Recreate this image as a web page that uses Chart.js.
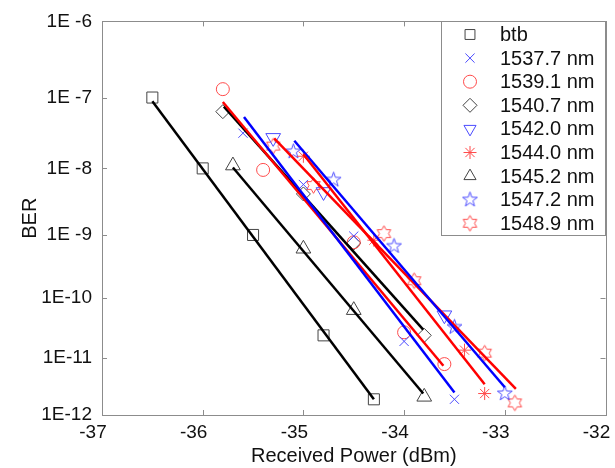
<!DOCTYPE html>
<html>
<head>
<meta charset="utf-8">
<script src="https://cdn.jsdelivr.net/npm/chart.js"></script>
<style>
  html, body { margin: 0; padding: 0; background: #fff; }
  canvas { display: block; }
</style>
</head>
<body>
<canvas id="ber-chart" width="615" height="468"></canvas>
<script>
const SERIES_LABELS = ['btb', '1537.7 nm', '1539.1 nm', '1540.7 nm', '1542.0 nm',
  '1544.0 nm', '1545.2 nm', '1547.2 nm', '1548.9 nm'];

// received power (dBm) per series
const POWER_DBM = [
  [-36.5, -36.0, -35.5, -34.8, -34.3],
  [-35.6, -35.0, -34.5, -34.0, -33.5],
  [-35.8, -35.4, -34.5, -34.0, -33.6],
  [-35.8, -35.0, -34.5, -33.8],
  [-35.3, -34.8, -33.6],
  [-35.0, -34.3, -33.4, -33.2],
  [-35.7, -35.0, -34.5, -33.8],
  [-35.1, -34.7, -34.1, -33.5, -33.0],
  [-35.3, -34.9, -34.2, -33.9, -33.2, -32.9]
];

// measured BER per series
const BER = [
  [1e-7, 1e-8, 1e-9, 2.4e-11, 1.9e-12],
  [3.2e-8, 5.8e-9, 9.6e-10, 1.9e-11, 1.9e-12],
  [1.3e-7, 9.5e-9, 7.7e-10, 2.7e-11, 7.8e-12],
  [6.4e-8, 4.2e-9, 7.5e-10, 2.4e-11],
  [2.75e-8, 4.5e-9, 5.2e-11],
  [1.5e-8, 8.3e-10, 1.35e-11, 2.4e-12],
  [1.1e-8, 6.1e-10, 6.3e-11, 2.1e-12],
  [1.75e-8, 6.8e-9, 6.7e-10, 3.3e-11, 2.4e-12],
  [2.1e-8, 5.6e-9, 1.05e-9, 1.9e-10, 1.2e-11, 1.64e-12]
];

// fitted lines: start / end points (null = no line drawn)
const FIT_POWER = [[-36.5, -34.3], [-35.59, -33.5], [-35.8, -33.61], [-35.79, -33.81], null,
  [-35.0, -33.2], [-35.7, -33.81], [-35.09, -33.0], [-35.29, -32.89]];
const FIT_BER = [[8.9e-8, 1.9e-12], [5.4e-8, 2.5e-12], [8.7e-8, 7.3e-12], [7.5e-8, 3.0e-11], null,
  [1.6e-8, 3.5e-12], [1.03e-8, 2.4e-12], [2.5e-8, 3.1e-12], [2.7e-8, 2.9e-12]];

const BER_TICKS = [1e-6, 1e-7, 1e-8, 1e-9, 1e-10, 1e-11, 1e-12];
const BER_TICK_LABELS = ['1E -6', '1E -7', '1E -8', '1E -9', '1E-10', '1E-11', '1E-12'];
const POWER_TICKS = [-37, -36, -35, -34, -33, -32];

const FONT = 'Liberation Sans, Arial, sans-serif';
const AXIS_COLOR = '#8c8c8c';
const LINE_COLORS = ['#000', '#0000ff', '#ff0000'];
const MARK_COLORS = ['#444', '#4b4bff', '#ff4b4b'];

// BER axis is linear in sqrt(-log10(BER))
const q = ber => Math.sqrt(-Math.log10(ber));

function starCanvas(points, outer, inner, color) {
  const c = document.createElement('canvas');
  c.width = c.height = 19;
  const g = c.getContext('2d');
  g.strokeStyle = color;
  g.lineWidth = 1;
  g.beginPath();
  for (let i = 0; i < points * 2; i++) {
    const a = -Math.PI / 2 + i * Math.PI / points;
    const r = i % 2 ? inner : outer;
    const px = 9.5 + Math.cos(a) * r, py = 9.5 + Math.sin(a) * r;
    i ? g.lineTo(px, py) : g.moveTo(px, py);
  }
  g.closePath();
  g.stroke();
  return c;
}

const colorIdx = i => i % 3;

const MARKERS = [
  { style: 'rect', radius: 7.8, rotation: 0 },
  { style: 'crossRot', radius: 6.5, rotation: 0 },
  { style: 'circle', radius: 6.5, rotation: 0 },
  { style: 'rectRot', radius: 7, rotation: 0 },
  { style: 'triangle', radius: 8.5, rotation: 180 },
  { style: 'star', radius: 6.5, rotation: 0 },
  { style: 'triangle', radius: 8.5, rotation: 0 },
  { style: starCanvas(5, 7.8, 3.1, MARK_COLORS[1]), radius: 8, rotation: 0 },
  { style: starCanvas(6, 7.8, 4.5, MARK_COLORS[2]), radius: 8, rotation: 0 }
];

const lineSets = [];
const pointSets = [];
SERIES_LABELS.forEach((label, i) => {
  const ci = colorIdx(i);
  if (FIT_POWER[i]) {
    lineSets.push({
      label: label + ' fit',
      type: 'line',
      data: FIT_POWER[i].map((p, k) => ({ x: p, y: q(FIT_BER[i][k]) })),
      borderColor: LINE_COLORS[ci],
      borderWidth: 2.5,
      pointRadius: 0,
      fill: false,
      tension: 0
    });
  }
  pointSets.push({
    label,
    data: POWER_DBM[i].map((p, k) => ({ x: p, y: q(BER[i][k]) })),
    pointStyle: MARKERS[i].style,
    pointRadius: MARKERS[i].radius,
    pointRotation: MARKERS[i].rotation,
    pointBorderWidth: 1,
    pointBorderColor: MARK_COLORS[ci],
    pointBackgroundColor: 'rgba(0,0,0,0)',
    showLine: false
  });
});

const boxAxes = {
  id: 'boxAxes',
  afterDatasetsDraw(chart) {
    const { ctx, chartArea: a, scales: { x, y } } = chart;
    ctx.save();
    ctx.strokeStyle = AXIS_COLOR;
    ctx.lineWidth = 1;
    ctx.beginPath();
    x.ticks.forEach(t => {
      const px = Math.round(x.getPixelForValue(t.value)) + 0.5;
      ctx.moveTo(px, a.bottom); ctx.lineTo(px, a.bottom - 5);
      ctx.moveTo(px, a.top); ctx.lineTo(px, a.top + 5);
    });
    y.ticks.forEach(t => {
      const py = Math.round(y.getPixelForValue(t.value)) + 0.5;
      ctx.moveTo(a.left, py); ctx.lineTo(a.left + 5, py);
      ctx.moveTo(a.right, py); ctx.lineTo(a.right - 5, py);
    });
    ctx.stroke();
    ctx.strokeRect(Math.round(a.left) + 0.5, Math.round(a.top) + 0.5,
      Math.round(a.right - a.left), Math.round(a.bottom - a.top));
    ctx.restore();
  }
};

const boxLegend = {
  id: 'boxLegend',
  afterDraw(chart) {
    const { ctx } = chart;
    const left = 441, top = 21, right = 605, bottom = 235;
    ctx.save();
    ctx.fillStyle = '#fff';
    ctx.fillRect(left, top, right - left, bottom - top);
    ctx.strokeStyle = AXIS_COLOR;
    ctx.lineWidth = 1;
    ctx.strokeRect(left + 0.5, top + 0.5, right - left, bottom - top);
    ctx.font = `20px ${FONT}`;
    ctx.textBaseline = 'middle';
    SERIES_LABELS.forEach((label, i) => {
      const yy = 34.5 + i * 23.6;
      const m = MARKERS[i];
      ctx.strokeStyle = MARK_COLORS[colorIdx(i)];
      ctx.fillStyle = 'rgba(0,0,0,0)';
      ctx.lineWidth = 1;
      Chart.helpers.drawPoint(ctx, {
        pointStyle: m.style, radius: Math.min(m.radius, 7), rotation: m.rotation, borderWidth: 1
      }, 470, yy);
      ctx.fillStyle = '#111';
      ctx.fillText(label, 500, yy + 1);
    });
    ctx.restore();
  }
};

new Chart(document.getElementById('ber-chart'), {
  type: 'scatter',
  data: { datasets: [...lineSets, ...pointSets] },
  plugins: [boxAxes, boxLegend],
  options: {
    responsive: false,
    animation: false,
    layout: { padding: { left: 0, top: 15, right: 5, bottom: 0 } },
    plugins: { legend: { display: false }, tooltip: { enabled: false } },
    scales: {
      x: {
        type: 'linear',
        min: POWER_TICKS[0],
        max: POWER_TICKS[POWER_TICKS.length - 1],
        grid: { display: false, drawTicks: false },
        border: { display: false },
        afterBuildTicks: s => { s.ticks = POWER_TICKS.map(v => ({ value: v })); },
        ticks: {
          color: '#111',
          font: { family: FONT, size: 19 },
          padding: 6,
          labelOffset: -9,
          maxRotation: 0,
          autoSkip: false,
          callback: v => String(v)
        },
        title: {
          display: true,
          text: 'Received Power (dBm)',
          color: '#111',
          font: { family: FONT, size: 20 },
          padding: { bottom: 0 }
        },
        afterFit: s => { s.height = 53; s.paddingLeft = 0; s.paddingRight = 0; }
      },
      y: {
        type: 'linear',
        reverse: true,
        min: q(BER_TICKS[0]),
        max: q(BER_TICKS[BER_TICKS.length - 1]),
        grid: { display: false, drawTicks: false },
        border: { display: false },
        afterBuildTicks: s => { s.ticks = BER_TICKS.map(b => ({ value: q(b) })); },
        ticks: {
          color: '#111',
          font: { family: FONT, size: 19 },
          padding: 10,
          autoSkip: false,
          callback: (v, i) => BER_TICK_LABELS[i]
        },
        title: {
          display: true,
          text: 'BER',
          color: '#111',
          font: { family: FONT, size: 20 },
          padding: { top: 18 }
        },
        afterFit: s => { s.width = 102; }
      }
    }
  }
});
</script>
</body>
</html>
